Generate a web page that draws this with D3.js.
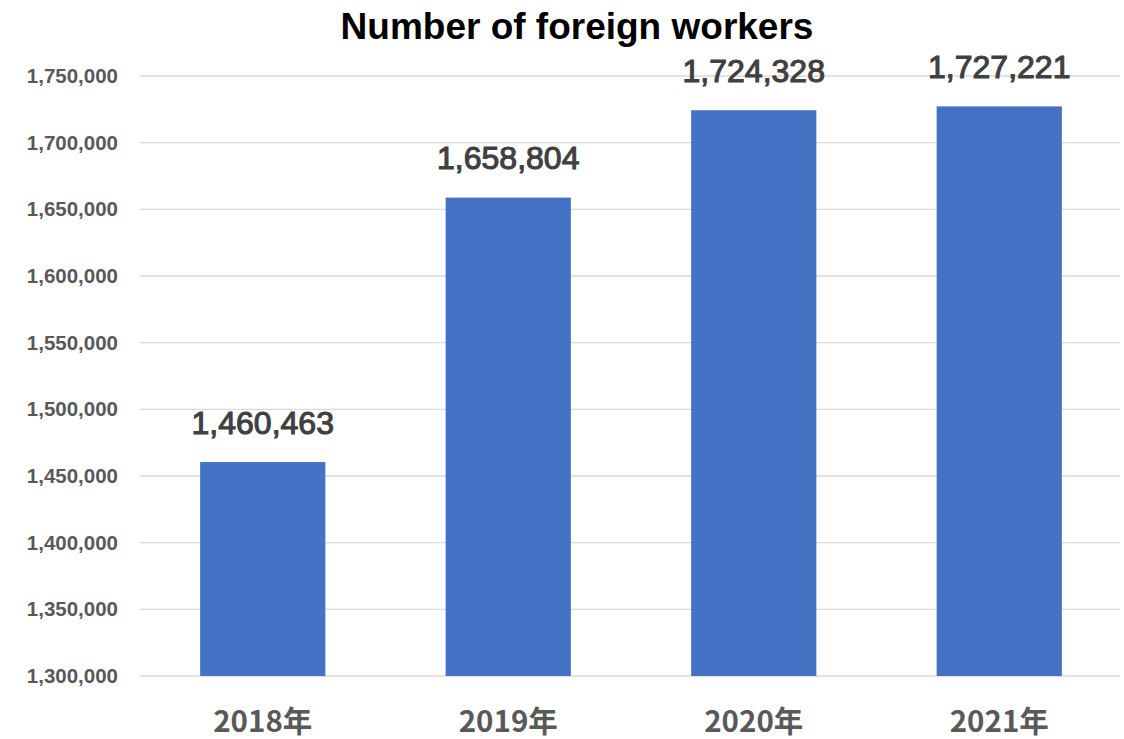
<!DOCTYPE html>
<html>
<head>
<meta charset="utf-8">
<script src="https://cdn.jsdelivr.net/npm/d3@7"></script>
<style>
  html, body { margin: 0; padding: 0; background: #fff; }
  svg { display: block; }
</style>
</head>
<body>
<svg id="chart" width="1124" height="739"></svg>
<script>
// Foreign workers by year
const years = ["2018年", "2019年", "2020年", "2021年"];
const workers = [1460463, 1658804, 1724328, 1727221];
const yTicks = [1300000, 1350000, 1400000, 1450000, 1500000, 1550000, 1600000, 1650000, 1700000, 1750000];
const chartTitle = "Number of foreign workers";

const svg = d3.select("#chart");
const plot = { left: 140, right: 1122, top: 76, bottom: 676 };

const x = d3.scaleBand()
  .domain(years)
  .range([plot.left, plot.right])
  .paddingInner(0.49)
  .paddingOuter(0.245);

const y = d3.scaleLinear()
  .domain([1300000, 1750000])
  .range([plot.bottom, plot.top]);

const fmt = d3.format(",");

// Horizontal gridlines
svg.append("g")
  .selectAll("line")
  .data(yTicks)
  .join("line")
  .attr("x1", plot.left)
  .attr("x2", plot.right - 2)
  .attr("y1", d => y(d))
  .attr("y2", d => y(d))
  .attr("stroke", "#d9d9d9")
  .attr("stroke-width", 1.3);

// Y axis labels
const yAxis = svg.append("g")
  .attr("transform", `translate(${plot.left - 22},0)`)
  .call(d3.axisLeft(y).tickValues(yTicks).tickFormat(fmt).tickSize(0).tickPadding(0));
yAxis.select(".domain").remove();
yAxis.selectAll("text")
  .attr("fill", "#595959")
  .attr("font-family", "'Liberation Sans', Arial, sans-serif")
  .attr("font-weight", "bold")
  .attr("font-size", 20.5);

// Bars
svg.append("g")
  .selectAll("rect")
  .data(years)
  .join("rect")
  .attr("x", d => x(d))
  .attr("width", x.bandwidth())
  .attr("y", (d, i) => y(workers[i]))
  .attr("height", (d, i) => plot.bottom - y(workers[i]))
  .attr("fill", "#4472C4");

// Value labels above bars
svg.append("g")
  .selectAll("text")
  .data(years)
  .join("text")
  .attr("x", d => x(d) + x.bandwidth() / 2)
  .attr("y", (d, i) => y(workers[i]) - 28.5)
  .attr("text-anchor", "middle")
  .attr("fill", "#404040")
  .attr("stroke", "#404040")
  .attr("stroke-width", 1.1)
  .attr("font-family", "'Liberation Sans', Arial, sans-serif")
  .attr("font-size", 32)
  .text((d, i) => fmt(workers[i]));

// Category axis
const xAxis = svg.append("g")
  .attr("transform", `translate(0,${plot.bottom})`)
  .call(d3.axisBottom(x).tickSize(0).tickPadding(0));
xAxis.select(".domain").remove();
xAxis.selectAll("text")
  .attr("dy", 0)
  .attr("y", 56)
  .attr("fill", "#595959")
  .attr("font-family", "'Noto Sans CJK JP', sans-serif")
  .attr("font-weight", "bold")
  .attr("font-size", 29.5);

// Title
svg.append("text")
  .attr("x", 577)
  .attr("y", 39)
  .attr("text-anchor", "middle")
  .attr("fill", "#000")
  .attr("font-family", "'Liberation Sans', Arial, sans-serif")
  .attr("font-weight", "bold")
  .attr("font-size", 37)
  .text(chartTitle);
</script>
</body>
</html>
